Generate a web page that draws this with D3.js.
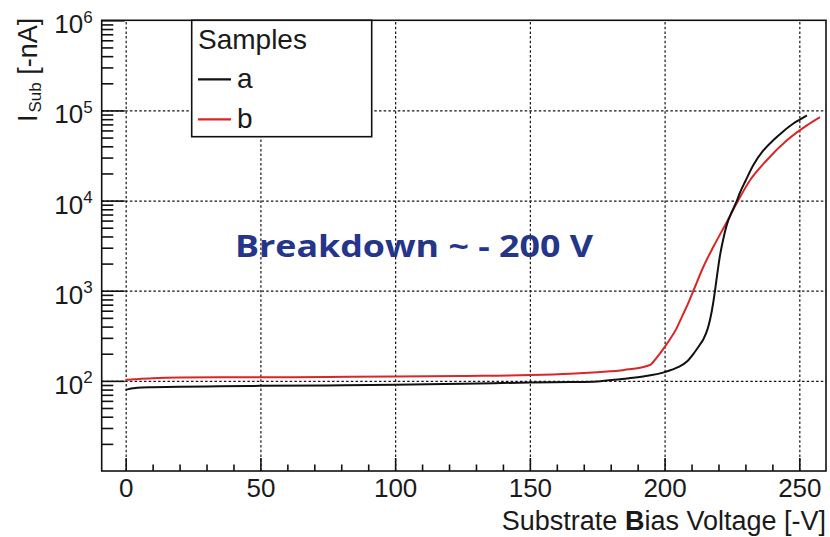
<!DOCTYPE html>
<html>
<head>
<meta charset="utf-8">
<script src="https://cdn.jsdelivr.net/npm/d3@7"></script>
<style>
  html, body { margin: 0; padding: 0; background: #fff; }
  svg { display: block; }
  text { font-family: "Liberation Sans", Arial, Helvetica, sans-serif; fill: #1a1a1a; }
  text.note { font-family: "Open Sans", Lato, sans-serif; font-weight: 700; fill: #24358a; }
</style>
</head>
<body>
<svg id="chart" width="830" height="537"></svg>
<script>
// Substrate current vs. bias voltage for two samples
const legendTitle = "Samples";
const seriesNames = ["a", "b"];
const seriesColors = ["#111111", "#d92626"];

// Sample a: bias voltage [-V] and substrate current [-nA]
const voltageA = [0, 1, 3, 6, 10, 20, 35, 50, 75, 100, 125, 150, 165, 175, 183.5, 192, 200,
  205, 208.3, 211, 213.2, 214.4, 216, 216.9, 218, 218.7, 219.6, 220.6, 221.8, 223.1, 225,
  226.8, 228, 230, 233, 236.5, 240.4, 244, 247.8, 250.5, 252.8];
const currentA = [79, 81, 83, 84.5, 85, 86, 87, 88, 89, 90.3, 93, 95.8, 97, 98.5, 104.4, 112, 125,
  142, 163.6, 205, 255, 290, 380, 482, 722, 998, 1574, 2495, 3776, 5410, 7520,
  9950, 12300, 16500, 25000, 35500, 46900, 58500, 71600, 80000, 88100];

// Sample b
const voltageB = [0, 3, 10, 20, 35, 50, 75, 100, 125, 150, 165, 175, 185, 194.6, 197, 200,
  202, 204.5, 206.5, 208.2, 211.3, 214.4, 218.1, 223.1, 226.8, 231.7, 237.9, 245.4, 252.8, 257.7];
const currentB = [102.6, 104, 107, 109, 109.5, 109.5, 110.5, 111.6, 113.5, 116, 120, 124.9, 132, 150, 180, 237,
  290, 385, 520, 665, 1107, 1845, 3070, 5800, 9400, 16800, 28000, 46600, 68300, 84300];

// Axis ticks
const xMajorTicks = [0, 50, 100, 150, 200, 250];
const yMajorTicks = [1e2, 1e3, 1e4, 1e5, 1e6];
const yGridTicks = [1e2, 1e3, 1e4, 1e5];
const yTickExponents = ["2", "3", "4", "5", "6"];

const xTitleParts = ["Substrate ", "B", "ias Voltage [-V]"];
const yTitleParts = ["I", "Sub", " [-nA]"];
const annotation = "Breakdown ~ - 200 V";

const svg = d3.select("#chart");
const plot = { left: 101.7, right: 826, top: 20.3, bottom: 471 };
const pw = plot.right - plot.left, ph = plot.bottom - plot.top;

const x = d3.scaleLinear().domain([-8.9, 259.9]).range([plot.left, plot.right]);
const y = d3.scaleLog().domain([10, 1e6]).range([plot.bottom, plot.top]);

svg.append("rect").attr("width", 830).attr("height", 537).attr("fill", "#fff");

// dotted grid
svg.append("g")
  .attr("transform", `translate(0,${plot.bottom})`)
  .call(d3.axisBottom(x).tickValues(xMajorTicks).tickSize(-ph).tickFormat(""))
  .call(g => g.select(".domain").remove())
  .call(g => g.selectAll("line").attr("stroke", "#151515").attr("stroke-width", 1.2).attr("stroke-dasharray", "2.5,2.2"));
svg.append("g")
  .attr("transform", `translate(${plot.left},0)`)
  .call(d3.axisLeft(y).tickValues(yGridTicks).tickSize(-pw).tickFormat(""))
  .call(g => g.select(".domain").remove())
  .call(g => g.selectAll("line").attr("stroke", "#151515").attr("stroke-width", 1.2).attr("stroke-dasharray", "2.5,2.2"));

// curves
const lineA = d3.line().x((d, i) => x(voltageA[i])).y(d => y(d)).curve(d3.curveMonotoneX);
const lineB = d3.line().x((d, i) => x(voltageB[i])).y(d => y(d)).curve(d3.curveMonotoneX);
svg.append("clipPath").attr("id", "plotclip")
  .append("rect").attr("x", plot.left).attr("y", plot.top).attr("width", pw).attr("height", ph);
const curves = svg.append("g").attr("clip-path", "url(#plotclip)");
curves.append("path").attr("d", lineB(currentB)).attr("fill", "none")
  .attr("stroke", seriesColors[1]).attr("stroke-width", 2).attr("stroke-linejoin", "round");
curves.append("path").attr("d", lineA(currentA)).attr("fill", "none")
  .attr("stroke", seriesColors[0]).attr("stroke-width", 2).attr("stroke-linejoin", "round");

// frame
svg.append("rect").attr("x", plot.left).attr("y", plot.top).attr("width", pw).attr("height", ph)
  .attr("fill", "none").attr("stroke", "#111").attr("stroke-width", 1.6);

// x axis: minor and major ticks with labels
const xMinor = d3.range(10, 260, 10).filter(v => v % 50 !== 0);
svg.append("g")
  .attr("transform", `translate(0,${plot.bottom})`)
  .call(d3.axisBottom(x).tickValues(xMinor).tickSize(-6.5).tickFormat(""))
  .call(g => g.select(".domain").remove())
  .call(g => g.selectAll("line").attr("stroke", "#111").attr("stroke-width", 1.6));
svg.append("g")
  .attr("transform", `translate(0,${plot.bottom})`)
  .call(d3.axisBottom(x).tickValues(xMajorTicks).tickSize(-13).tickPadding(7.5).tickFormat(d3.format("d")))
  .call(g => g.select(".domain").remove())
  .call(g => g.selectAll("line").attr("stroke", "#111").attr("stroke-width", 1.6))
  .call(g => g.selectAll("text").attr("font-size", 26).attr("font-family", null).attr("fill", "#1a1a1a"));

// y axis: minor and major ticks with power-of-ten labels
const yMinor = [];
for (let k = 1; k <= 5; k++) for (let m = 2; m <= 9; m++) yMinor.push(m * Math.pow(10, k));
svg.append("g")
  .attr("transform", `translate(${plot.left},0)`)
  .call(d3.axisLeft(y).tickValues(yMinor).tickSize(-11.6).tickFormat(""))
  .call(g => g.select(".domain").remove())
  .call(g => g.selectAll("line").attr("stroke", "#111").attr("stroke-width", 1.6));
const yMajorAxis = svg.append("g")
  .attr("transform", `translate(${plot.left},0)`)
  .call(d3.axisLeft(y).tickValues(yMajorTicks).tickSize(-23).tickFormat(""))
  .call(g => g.select(".domain").remove())
  .call(g => g.selectAll("line").attr("stroke", "#111").attr("stroke-width", 1.6));
yMajorAxis.selectAll(".tick").each(function (d, i) {
  const t = d3.select(this).append("text")
    .attr("x", -9).attr("y", 12.5).attr("text-anchor", "end")
    .attr("font-family", null).attr("fill", "#1a1a1a").attr("font-size", 26);
  t.append("tspan").text("10");
  t.append("tspan").attr("dy", -10.5).attr("font-size", 17).text(yTickExponents[i]);
});

// axis titles
const xt = svg.append("text").attr("x", 826).attr("y", 530).attr("text-anchor", "end").attr("font-size", 27);
xt.append("tspan").text(xTitleParts[0]);
xt.append("tspan").attr("font-weight", "bold").text(xTitleParts[1]);
xt.append("tspan").text(xTitleParts[2]);

const yt = svg.append("text").attr("transform", "translate(36.5,122) rotate(-90)").attr("font-size", 27);
yt.append("tspan").text(yTitleParts[0]);
yt.append("tspan").attr("dx", 2).attr("dy", 4).attr("font-size", 17).text(yTitleParts[1]);
yt.append("tspan").attr("dy", -4).text(yTitleParts[2]);

// annotation: widened to span 358 px while keeping its cap height
const note = svg.append("text").attr("class", "note").attr("x", 0).attr("y", 0)
  .attr("font-size", 31)
  .text(annotation);
const noteWidth = note.node().getComputedTextLength() || 358;
note.attr("transform", `translate(235,256.7) scale(${358 / noteWidth},1)`);

// legend
const lg = svg.append("g");
lg.append("rect").attr("x", 191.7).attr("y", plot.top).attr("width", 180).attr("height", 116.4)
  .attr("fill", "#fff").attr("stroke", "#111").attr("stroke-width", 1.6);
lg.append("text").attr("x", 198).attr("y", 48.5).attr("font-size", 28).text(legendTitle);
seriesNames.forEach((name, i) => {
  const cy = 79.3 + i * 40;
  lg.append("line").attr("x1", 198).attr("x2", 231).attr("y1", cy).attr("y2", cy)
    .attr("stroke", seriesColors[i]).attr("stroke-width", 2.2);
  lg.append("text").attr("x", 237).attr("y", cy + 8.4).attr("font-size", 28).text(name);
});
</script>
</body>
</html>
